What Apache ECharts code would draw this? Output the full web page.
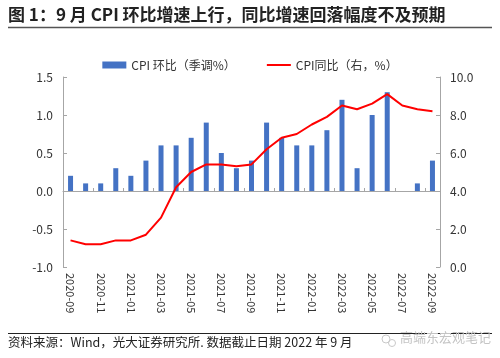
<!DOCTYPE html>
<html><head><meta charset="utf-8">
<script src="https://cdn.jsdelivr.net/npm/echarts@6/dist/echarts.min.js"></script>
<style>html,body{margin:0;padding:0;background:#fff}#c{width:500px;height:358px}</style>
</head><body><div id="c"></div>
<script>
const categories = ['2020-09','2020-10','2020-11','2020-12','2021-01','2021-02','2021-03','2021-04','2021-05','2021-06','2021-07','2021-08','2021-09','2021-10','2021-11','2021-12','2022-01','2022-02','2022-03','2022-04','2022-05','2022-06','2022-07','2022-08','2022-09'];
const cpiMoM = [0.2,0.1,0.1,0.3,0.2,0.4,0.6,0.6,0.7,0.9,0.5,0.3,0.4,0.9,0.7,0.6,0.6,0.8,1.2,0.3,1.0,1.3,0.0,0.1,0.4];
const cpiYoY = [1.4,1.2,1.2,1.4,1.4,1.7,2.6,4.2,5.0,5.4,5.4,5.3,5.4,6.2,6.8,7.0,7.5,7.9,8.5,8.3,8.6,9.1,8.5,8.3,8.2];
const leftTicks = {min:-1, max:1.5, interval:0.5};
const rightTicks = {min:0, max:10, interval:2};
const FONT = '"Noto Sans CJK SC","Noto Sans",sans-serif';

const chart = echarts.init(document.getElementById('c'), null, {renderer:'canvas'});
chart.setOption({
  animation:false,
  textStyle:{fontFamily:FONT},
  grid:{left:63, right:60, top:77, bottom:91},
  legend:{
    top:54, left:'center', itemGap:30, itemWidth:24, itemHeight:7,
    textStyle:{fontSize:12, color:'#333', fontFamily:FONT},
    data:[{name:'CPI 环比（季调%）', icon:'rect'}, {name:'CPI同比（右，%）', itemStyle:{opacity:0}}]
  },
  xAxis:[{
    type:'category', data:categories, boundaryGap:true,
    axisLine:{show:false, onZero:false}, axisTick:{show:false},
    axisLabel:{interval:1, rotate:-90, fontSize:11, color:'#333', margin:6, fontFamily:FONT}
  },{
    type:'category', data:categories, boundaryGap:true,
    axisLine:{show:true, onZero:true, lineStyle:{color:'#a6a6a6', width:1}},
    axisTick:{show:true, interval:1, length:3, lineStyle:{color:'#a6a6a6'}},
    axisLabel:{show:false}
  }],
  yAxis:[{
    type:'value', min:leftTicks.min, max:leftTicks.max, interval:leftTicks.interval,
    axisLine:{show:true, lineStyle:{color:'#a6a6a6'}},
    axisTick:{show:true, inside:true, length:4, lineStyle:{color:'#a6a6a6'}},
    splitLine:{show:false},
    axisLabel:{formatter:v=>v.toFixed(1), fontSize:12, color:'#333', margin:10, fontFamily:FONT}
  },{
    type:'value', min:rightTicks.min, max:rightTicks.max, interval:rightTicks.interval,
    axisLine:{show:true, lineStyle:{color:'#a6a6a6'}},
    axisTick:{show:true, inside:true, length:4, lineStyle:{color:'#a6a6a6'}},
    splitLine:{show:false},
    axisLabel:{formatter:v=>v.toFixed(1), fontSize:12, color:'#333', margin:10, fontFamily:FONT}
  }],
  series:[{
    name:'CPI 环比（季调%）', type:'bar', data:cpiMoM, xAxisIndex:0, yAxisIndex:0,
    barWidth:5, itemStyle:{color:'#4472C4'}
  },{
    name:'CPI同比（右，%）', type:'line', data:cpiYoY, xAxisIndex:0, yAxisIndex:1,
    symbol:'none', lineStyle:{color:'#FF0000', width:2}, itemStyle:{color:'#FF0000'}
  }],
  graphic:[
    {type:'text', left:8, top:6, style:{text:'图 1：9 月 CPI 环比增速上行，同比增速回落幅度不及预期', fontSize:17, fontWeight:'bold', fill:'#222', fontFamily:FONT}},
    {type:'line', shape:{x1:8, y1:27.5, x2:492, y2:27.5}, style:{stroke:'#555', lineWidth:1.5}},
    {type:'line', shape:{x1:8, y1:333.5, x2:492, y2:333.5}, style:{stroke:'#222', lineWidth:1}},
    {type:'text', left:8, top:336, style:{text:'资料来源：Wind，光大证券研究所. 数据截止日期 2022 年 9 月', fontSize:12.5, fill:'#222', fontFamily:FONT}},
    {type:'circle', shape:{cx:386, cy:339, r:4}, style:{fill:'none', stroke:'#c8c8c8', lineWidth:1}},
    {type:'circle', shape:{cx:392, cy:343, r:3.5}, style:{fill:'none', stroke:'#c8c8c8', lineWidth:1}},
    {type:'text', left:400, top:331, style:{text:'高端东宏观笔记', fontSize:13, fill:'#c4c4c4', fontFamily:FONT}}
  ]
});
</script></body></html>
